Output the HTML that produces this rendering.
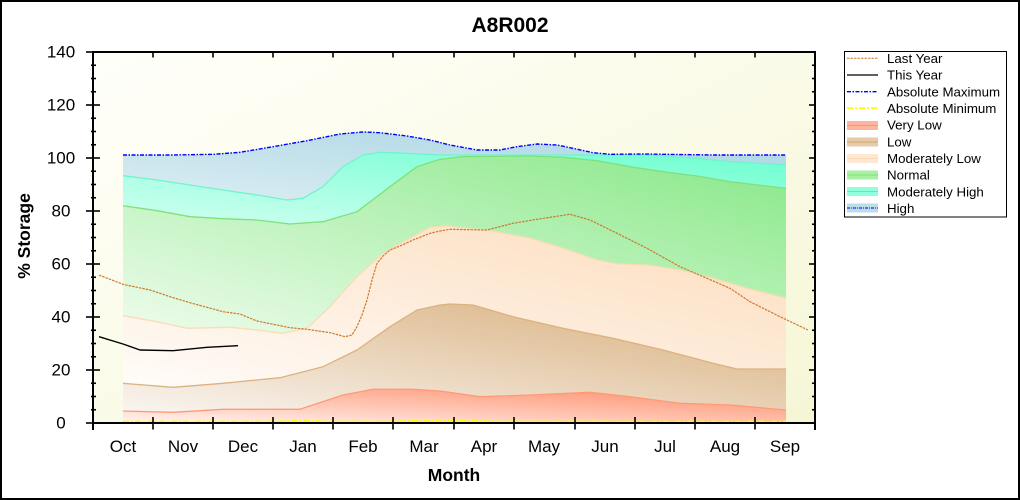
<!DOCTYPE html>
<html><head><meta charset="utf-8"><style>
html,body{margin:0;padding:0;background:#fff;}
svg{display:block;font-family:"Liberation Sans",Arial,sans-serif;}
</style></head><body>
<svg width="1020" height="500" viewBox="0 0 1020 500" xmlns="http://www.w3.org/2000/svg">
<defs>
<linearGradient id="bg" x1="0" y1="0" x2="1" y2="1"><stop offset="0" stop-color="#fffffa"/><stop offset="1" stop-color="#f6f6d6"/></linearGradient>
<linearGradient id="gH" x1="0" y1="1" x2="1" y2="0"><stop offset="0" stop-color="#dceef4"/><stop offset="1" stop-color="#a8d4e2"/></linearGradient>
<linearGradient id="gMH" x1="0" y1="1" x2="1" y2="0"><stop offset="0" stop-color="#d0fff0"/><stop offset="1" stop-color="#6cffd0"/></linearGradient>
<linearGradient id="gN" x1="0" y1="1" x2="1" y2="0"><stop offset="0" stop-color="#eefcec"/><stop offset="1" stop-color="#88e888"/></linearGradient>
<linearGradient id="gML" x1="0" y1="1" x2="1" y2="0"><stop offset="0" stop-color="#fffcf9"/><stop offset="1" stop-color="#fcdcbc"/></linearGradient>
<linearGradient id="gL" x1="0" y1="1" x2="1" y2="0"><stop offset="0" stop-color="#f9f5f1"/><stop offset="1" stop-color="#d8ae7a"/></linearGradient>
<linearGradient id="gVL" x1="0" y1="1" x2="1" y2="0"><stop offset="0" stop-color="#fff4f0"/><stop offset="1" stop-color="#ff8c68"/></linearGradient>
</defs>

<!-- outer frame -->
<rect x="1" y="1" width="1018" height="498" fill="#fff" stroke="#000" stroke-width="2"/>

<!-- title -->
<text x="510" y="32" font-size="21" font-weight="bold" text-anchor="middle">A8R002</text>

<!-- plot background -->
<rect x="93" y="52" width="722" height="371" fill="url(#bg)"/>

<!-- bands -->
<path fill="url(#gH)" d="M123,155 L173,155 L213,154.3 L240,152.3 L273,146.7 L307,140.7 L340,134 L363,132 L380,132.7 L407,136 L430,140 L450,145 L477,150 L500,150 L517,146.7 L537,144 L557,145 L573,148.3 L593,152.7 L610,154.3 L643,154 L713,155 L786,155 L786,165 L730,161.7 L697,158.3 L647,155 L440,155 L407,153.3 L380,152.3 L363,155 L343,166.7 L323,186.7 L303,198.3 L287,200 L257,195 L223,190 L190,185 L157,180 L123,175.7 Z"/>
<path fill="url(#gMH)" d="M123,175.7 L157,180 L190,185 L223,190 L257,195 L287,200 L303,198.3 L323,186.7 L343,166.7 L363,155 L380,152.3 L407,153.3 L440,155 L647,155 L697,158.3 L730,161.7 L786,165 L786,188.3 L730,181.7 L697,176 L663,171.7 L630,166.7 L597,160.7 L563,157.3 L530,156 L463,156.7 L440,159.3 L417,166.7 L390,186.7 L357,211.7 L323,221.7 L290,224 L257,220 L223,218.7 L190,216.7 L157,210.7 L123,205.7 Z"/>
<path fill="url(#gN)" d="M123,205.7 L157,210.7 L190,216.7 L223,218.7 L257,220 L290,224 L323,221.7 L357,211.7 L390,186.7 L417,166.7 L440,159.3 L463,156.7 L530,156 L563,157.3 L597,160.7 L630,166.7 L663,171.7 L697,176 L730,181.7 L786,188.3 L786,298.3 L747,288.3 L713,278.3 L680,270 L647,265 L617,264 L597,260 L563,248.3 L530,238.3 L490,230.7 L447,226 L430,227.3 L407,240 L383,253.3 L357,276.7 L330,306.7 L307,328.3 L283,333.3 L257,330 L230,327.3 L187,328.3 L157,321.7 L123,315.7 Z"/>
<path fill="url(#gML)" d="M123,315.7 L157,321.7 L187,328.3 L230,327.3 L257,330 L283,333.3 L307,328.3 L330,306.7 L357,276.7 L383,253.3 L407,240 L430,227.3 L447,226 L490,230.7 L530,238.3 L563,248.3 L597,260 L617,264 L647,265 L680,270 L713,278.3 L747,288.3 L786,298.3 L786,369 L737,369 L713,363.3 L663,350 L613,338.3 L563,328.3 L513,316.7 L473,305 L450,304 L440,305 L417,310 L390,326.7 L357,350 L323,366.7 L280,377.7 L223,383.3 L173,387.3 L123,383.3 Z"/>
<path fill="url(#gL)" d="M123,383.3 L173,387.3 L223,383.3 L280,377.7 L323,366.7 L357,350 L390,326.7 L417,310 L440,305 L450,304 L473,305 L513,316.7 L563,328.3 L613,338.3 L663,350 L713,363.3 L737,369 L786,369 L786,410 L730,405 L680,403.3 L630,396.7 L590,392.3 L530,395 L480,396.7 L440,391 L413,389.3 L373,389.3 L343,395 L300,409.3 L223,409.3 L173,412.3 L123,411 Z"/>
<path fill="url(#gVL)" d="M123,411 L173,412.3 L223,409.3 L300,409.3 L343,395 L373,389.3 L413,389.3 L440,391 L480,396.7 L530,395 L590,392.3 L630,396.7 L680,403.3 L730,405 L786,410 L786,423 L123,423 Z"/>

<!-- band boundary lines -->
<g fill="none" stroke-width="1.3" stroke-linejoin="round">
<path stroke="#70f4cc" d="M123,175.7 L157,180 L190,185 L223,190 L257,195 L287,200 L303,198.3 L323,186.7 L343,166.7 L363,155 L380,152.3 L407,153.3 L440,155 L647,155 L697,158.3 L730,161.7 L786,165"/>
<path stroke="#80e07c" d="M123,205.7 L157,210.7 L190,216.7 L223,218.7 L257,220 L290,224 L323,221.7 L357,211.7 L390,186.7 L417,166.7 L440,159.3 L463,156.7 L530,156 L563,157.3 L597,160.7 L630,166.7 L663,171.7 L697,176 L730,181.7 L786,188.3"/>
<path stroke="#fbdcb4" d="M123,315.7 L157,321.7 L187,328.3 L230,327.3 L257,330 L283,333.3 L307,328.3 L330,306.7 L357,276.7 L383,253.3 L407,240 L430,227.3 L447,226 L490,230.7 L530,238.3 L563,248.3 L597,260 L617,264 L647,265 L680,270 L713,278.3 L747,288.3 L786,298.3"/>
<path stroke="#dcb27e" d="M123,383.3 L173,387.3 L223,383.3 L280,377.7 L323,366.7 L357,350 L390,326.7 L417,310 L440,305 L450,304 L473,305 L513,316.7 L563,328.3 L613,338.3 L663,350 L713,363.3 L737,369 L786,369"/>
<path stroke="#ff9a78" d="M123,411 L173,412.3 L223,409.3 L300,409.3 L343,395 L373,389.3 L413,389.3 L440,391 L480,396.7 L530,395 L590,392.3 L630,396.7 L680,403.3 L730,405 L786,410"/>
</g>

<!-- absolute max -->
<path fill="none" stroke="#0000ff" stroke-width="1.4" stroke-dasharray="4,1.5,1.5,1.5" d="M123,155 L173,155 L213,154.3 L240,152.3 L273,146.7 L307,140.7 L340,134 L363,132 L380,132.7 L407,136 L430,140 L450,145 L477,150 L500,150 L517,146.7 L537,144 L557,145 L573,148.3 L593,152.7 L610,154.3 L643,154 L713,155 L786,155"/>
<!-- absolute min -->
<path fill="none" stroke="#ffff00" stroke-width="2" stroke-dasharray="6,2,2,2" d="M123,421.6 L270,421.6 L300,420.8 L330,421.6 L390,421.6 L420,420.8 L470,420.8 L500,421.6 L786,421.6"/>
<!-- last year -->
<path fill="none" stroke="#cc7a30" stroke-width="1.2" stroke-dasharray="2.5,1" stroke-linejoin="round" d="M99,275 L123,284.3 L150,290 L170,296.7 L190,302.7 L223,311.7 L240,314 L257,321 L290,327.7 L307,329.3 L330,332.7 L345,336.7 L352,335 L357,326.7 L362,315 L367,300 L372,280 L377,263.3 L383,256 L390,250 L400,246 L413,240 L430,233.3 L440,231 L450,229.3 L487,230 L513,223.3 L537,219.3 L570,214.3 L590,220 L617,233.3 L647,248.3 L680,266.7 L707,278.3 L730,288.3 L750,301.7 L780,316.7 L808,330"/>
<!-- this year -->
<path fill="none" stroke="#000" stroke-width="1.4" stroke-linejoin="round" d="M99,336.7 L123,344 L140,350 L173,350.7 L207,347.3 L238,345.7"/>

<!-- axes frame -->
<g stroke="#000" stroke-width="2" fill="none">
<line x1="92" y1="52" x2="816" y2="52"/>
<line x1="92" y1="423" x2="816" y2="423"/>
<line x1="93" y1="51" x2="93" y2="430"/>
<line x1="815" y1="51" x2="815" y2="430"/>
</g>
<!-- ticks -->
<g stroke="#000" stroke-width="1.6">
<line x1="86" y1="52" x2="100" y2="52"/><line x1="86" y1="105" x2="100" y2="105"/><line x1="86" y1="158" x2="100" y2="158"/><line x1="86" y1="211" x2="100" y2="211"/><line x1="86" y1="264" x2="100" y2="264"/><line x1="86" y1="317" x2="100" y2="317"/><line x1="86" y1="370" x2="100" y2="370"/><line x1="86" y1="423" x2="100" y2="423"/>
<line x1="91" y1="65.25" x2="96" y2="65.25"/><line x1="91" y1="78.5" x2="96" y2="78.5"/><line x1="91" y1="91.75" x2="96" y2="91.75"/>
<line x1="91" y1="118.25" x2="96" y2="118.25"/><line x1="91" y1="131.5" x2="96" y2="131.5"/><line x1="91" y1="144.75" x2="96" y2="144.75"/>
<line x1="91" y1="171.25" x2="96" y2="171.25"/><line x1="91" y1="184.5" x2="96" y2="184.5"/><line x1="91" y1="197.75" x2="96" y2="197.75"/>
<line x1="91" y1="224.25" x2="96" y2="224.25"/><line x1="91" y1="237.5" x2="96" y2="237.5"/><line x1="91" y1="250.75" x2="96" y2="250.75"/>
<line x1="91" y1="277.25" x2="96" y2="277.25"/><line x1="91" y1="290.5" x2="96" y2="290.5"/><line x1="91" y1="303.75" x2="96" y2="303.75"/>
<line x1="91" y1="330.25" x2="96" y2="330.25"/><line x1="91" y1="343.5" x2="96" y2="343.5"/><line x1="91" y1="356.75" x2="96" y2="356.75"/>
<line x1="91" y1="383.25" x2="96" y2="383.25"/><line x1="91" y1="396.5" x2="96" y2="396.5"/><line x1="91" y1="409.75" x2="96" y2="409.75"/>
<line x1="809" y1="105" x2="815" y2="105"/><line x1="809" y1="158" x2="815" y2="158"/><line x1="809" y1="211" x2="815" y2="211"/><line x1="809" y1="264" x2="815" y2="264"/><line x1="809" y1="317" x2="815" y2="317"/><line x1="809" y1="370" x2="815" y2="370"/>
<line x1="812" y1="65.25" x2="815" y2="65.25"/><line x1="812" y1="78.5" x2="815" y2="78.5"/><line x1="812" y1="91.75" x2="815" y2="91.75"/>
<line x1="812" y1="118.25" x2="815" y2="118.25"/><line x1="812" y1="131.5" x2="815" y2="131.5"/><line x1="812" y1="144.75" x2="815" y2="144.75"/>
<line x1="812" y1="171.25" x2="815" y2="171.25"/><line x1="812" y1="184.5" x2="815" y2="184.5"/><line x1="812" y1="197.75" x2="815" y2="197.75"/>
<line x1="812" y1="224.25" x2="815" y2="224.25"/><line x1="812" y1="237.5" x2="815" y2="237.5"/><line x1="812" y1="250.75" x2="815" y2="250.75"/>
<line x1="812" y1="277.25" x2="815" y2="277.25"/><line x1="812" y1="290.5" x2="815" y2="290.5"/><line x1="812" y1="303.75" x2="815" y2="303.75"/>
<line x1="812" y1="330.25" x2="815" y2="330.25"/><line x1="812" y1="343.5" x2="815" y2="343.5"/><line x1="812" y1="356.75" x2="815" y2="356.75"/>
<line x1="812" y1="383.25" x2="815" y2="383.25"/><line x1="812" y1="396.5" x2="815" y2="396.5"/><line x1="812" y1="409.75" x2="815" y2="409.75"/>
<line x1="153" y1="52" x2="153" y2="57.5"/><line x1="213" y1="52" x2="213" y2="57.5"/><line x1="273" y1="52" x2="273" y2="57.5"/><line x1="333" y1="52" x2="333" y2="57.5"/><line x1="393" y1="52" x2="393" y2="57.5"/><line x1="454" y1="52" x2="454" y2="57.5"/><line x1="514" y1="52" x2="514" y2="57.5"/><line x1="575" y1="52" x2="575" y2="57.5"/><line x1="635" y1="52" x2="635" y2="57.5"/><line x1="695" y1="52" x2="695" y2="57.5"/><line x1="755" y1="52" x2="755" y2="57.5"/>
<line x1="153" y1="417" x2="153" y2="429.5"/><line x1="213" y1="417" x2="213" y2="429.5"/><line x1="273" y1="417" x2="273" y2="429.5"/><line x1="333" y1="417" x2="333" y2="429.5"/><line x1="393" y1="417" x2="393" y2="429.5"/><line x1="454" y1="417" x2="454" y2="429.5"/><line x1="514" y1="417" x2="514" y2="429.5"/><line x1="575" y1="417" x2="575" y2="429.5"/><line x1="635" y1="417" x2="635" y2="429.5"/><line x1="695" y1="417" x2="695" y2="429.5"/><line x1="755" y1="417" x2="755" y2="429.5"/>
</g>

<!-- y tick labels -->
<g font-size="17" text-anchor="middle" fill="#000">
<text x="61" y="57.5">140</text><text x="61" y="110.5">120</text><text x="61" y="163.5">100</text><text x="61" y="216.5">80</text><text x="61" y="269.5">60</text><text x="61" y="322.5">40</text><text x="61" y="375.5">20</text><text x="61" y="428.5">0</text>
</g>
<!-- month labels -->
<g font-size="17" text-anchor="middle" fill="#000">
<text x="123" y="452">Oct</text><text x="183" y="452">Nov</text><text x="243" y="452">Dec</text><text x="303" y="452">Jan</text><text x="363" y="452">Feb</text><text x="424" y="452">Mar</text><text x="484" y="452">Apr</text><text x="544" y="452">May</text><text x="605" y="452">Jun</text><text x="665" y="452">Jul</text><text x="725" y="452">Aug</text><text x="785" y="452">Sep</text>
</g>
<text x="454" y="481" font-size="17.5" font-weight="bold" text-anchor="middle">Month</text>
<text transform="translate(30,236) rotate(-90)" font-size="17.5" font-weight="bold" text-anchor="middle">% Storage</text>

<!-- legend -->
<rect x="844.5" y="51.5" width="162" height="165.5" fill="#fff" stroke="#000" stroke-width="1"/>
<g>
<line x1="847" y1="58.3" x2="878" y2="58.3" stroke="#cc7a30" stroke-width="1" stroke-dasharray="2.5,1"/>
<line x1="847" y1="75" x2="878" y2="75" stroke="#000" stroke-width="1.3"/>
<line x1="847" y1="91.7" x2="878" y2="91.7" stroke="#0000ff" stroke-width="1.3" stroke-dasharray="4,1.5,1.5,1.5"/>
<line x1="847" y1="108.3" x2="878" y2="108.3" stroke="#ffff00" stroke-width="2" stroke-dasharray="6,2,2,2"/>
<rect x="847" y="121" width="31" height="9" fill="#ffb49c"/><line x1="847" y1="125.5" x2="878" y2="125.5" stroke="#ff9070" stroke-width="1"/>
<rect x="847" y="137.5" width="31" height="9" fill="#e6cba8"/><line x1="847" y1="142" x2="878" y2="142" stroke="#d4a670" stroke-width="1"/>
<rect x="847" y="154" width="31" height="9" fill="#fde8d4"/><line x1="847" y1="158.5" x2="878" y2="158.5" stroke="#fad8b4" stroke-width="1"/>
<rect x="847" y="170.5" width="31" height="9" fill="#a8f0a4"/><line x1="847" y1="175" x2="878" y2="175" stroke="#80e07c" stroke-width="1"/>
<rect x="847" y="187" width="31" height="9" fill="#90ffdc"/><line x1="847" y1="191.5" x2="878" y2="191.5" stroke="#50f0c0" stroke-width="1"/>
<rect x="847" y="203.5" width="31" height="9" fill="#bcdcea"/><line x1="847" y1="208" x2="878" y2="208" stroke="#0000ff" stroke-width="1" stroke-dasharray="3,1,1,1"/>
</g>
<g font-size="13.3" fill="#000">
<text x="887" y="63">Last Year</text>
<text x="887" y="79.7">This Year</text>
<text x="887" y="96.4">Absolute Maximum</text>
<text x="887" y="113">Absolute Minimum</text>
<text x="887" y="129.7">Very Low</text>
<text x="887" y="146.4">Low</text>
<text x="887" y="163">Moderately Low</text>
<text x="887" y="179.7">Normal</text>
<text x="887" y="196.3">Moderately High</text>
<text x="887" y="213">High</text>
</g>
</svg>
</body></html>
